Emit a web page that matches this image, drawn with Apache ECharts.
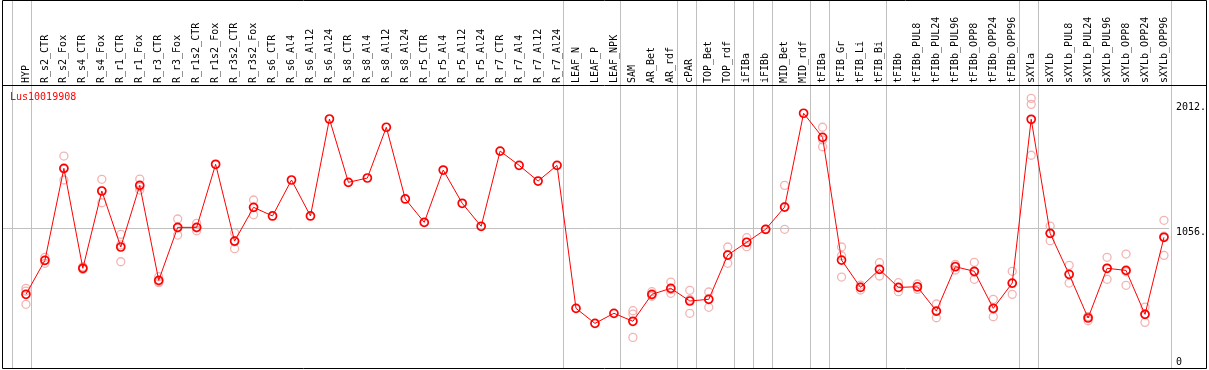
<!DOCTYPE html>
<html>
<head>
<meta charset="utf-8">
<script src="https://cdn.jsdelivr.net/npm/echarts@6/dist/echarts.min.js"></script>
<style>html,body{margin:0;padding:0;background:#fff}#c{width:1209px;height:370px}</style>
</head>
<body>
<div id="c"></div>
<script>
const title = 'Lus10019908';
const categories = ['HYP','R_s2_CTR','R_s2_Fox','R_s4_CTR','R_s4_Fox','R_r1_CTR','R_r1_Fox','R_r3_CTR','R_r3_Fox','R_r1s2_CTR','R_r1s2_Fox','R_r3s2_CTR','R_r3s2_Fox','R_s6_CTR','R_s6_Al4','R_s6_Al12','R_s6_Al24','R_s8_CTR','R_s8_Al4','R_s8_Al12','R_s8_Al24','R_r5_CTR','R_r5_Al4','R_r5_Al12','R_r5_Al24','R_r7_CTR','R_r7_Al4','R_r7_Al12','R_r7_Al24','LEAF_N','LEAF_P','LEAF_NPK','SAM','AR_Bet','AR_rdf','cPAR','TOP_Bet','TOP_rdf','iFIBa','iFIBb','MID_Bet','MID_rdf','tFIBa','tFIB_Gr','tFIB_Li','tFIB_Bi','tFIBb','tFIBb_PUL8','tFIBb_PUL24','tFIBb_PUL96','tFIBb_OPP8','tFIBb_OPP24','tFIBb_OPP96','sXYLa','sXYLb','sXYLb_PUL8','sXYLb_PUL24','sXYLb_PUL96','sXYLb_OPP8','sXYLb_OPP24','sXYLb_OPP96'];
const meanValues = [552,812,1515,751,1342,914,1385,659,1064,1064,1546,959,1217,1151,1426,1151,1892,1408,1441,1829,1281,1102,1502,1248,1072,1647,1538,1418,1538,445,330,407,346,552,598,501,514,852,950,1049,1219,1936,1752,814,605,743,605,610,424,763,728,445,638,1890,1018,705,371,751,735,399,988];
const rep1 = [598,835,1609,763,1431,1011,1433,687,1128,1095,null,1023,1273,null,null,null,null,null,null,null,null,null,null,null,null,null,null,null,null,null,null,null,427,572,646,583,570,914,985,1049,1385,null,1829,914,623,794,641,631,478,781,797,514,728,2050,1074,774,381,835,860,455,1118];
const rep2 = [476,789,1426,743,1252,801,1349,641,1005,1038,null,901,1160,null,null,null,null,null,null,null,null,null,null,null,null,null,null,null,null,null,null,null,223,547,560,407,453,789,916,1049,1049,null,1680,684,585,692,572,590,373,738,667,381,552,1615,962,638,350,667,621,338,850];
const rep3 = [577,812,1510,750,1343,930,1373,649,1059,1059,null,953,1218,null,null,null,null,null,null,null,null,null,null,null,null,null,null,null,null,null,null,null,401,537,588,513,519,853,949,1049,1223,null,1732,847,608,743,603,609,422,770,720,440,634,2004,1018,703,382,751,724,404,996];
const groupEnds = [-1,0,28,31,34,35,37,38,39,41,42,45,52,53,60];
const yTickValues = [0,1056,2012];
const yTickLabels = ['0','1056.','2012.'];
const yGridValues = [1056];

const FONT = 'DejaVu Sans Mono';
const sepOffset = 5/19;
const xMin = -24/19, xMax = 1181/19;   // category index range spanning the frame
const xIdx = categories.map((c,i)=>i);
const pairs = arr => arr.map((v,i)=> v==null ? null : [i,v]).filter(Boolean);
const repData = pairs(rep1).concat(pairs(rep2), pairs(rep3));
const lastSep = groupEnds[groupEnds.length-1] + sepOffset;

const chart = echarts.init(document.getElementById('c'), null, {renderer:'canvas'});
chart.setOption({
  animation:false,
  backgroundColor:'#fff',
  title:{text:title,left:10,top:92,padding:0,textStyle:{color:'#ff0000',fontFamily:FONT,fontSize:10,fontWeight:'normal'}},
  grid:[
    {left:2,top:85,width:1205,height:283},
    {left:2,top:0,width:1205,height:368}
  ],
  xAxis:[
    {type:'value',gridIndex:0,min:xMin,max:xMax,position:'top',
     axisLine:{show:false},axisTick:{show:false},splitLine:{show:false},
     axisLabel:{customValues:xIdx,rotate:90,margin:2,fontFamily:FONT,fontSize:10,color:'#000',
       formatter:v=>categories[Math.round(v)]||''}},
    {type:'value',gridIndex:1,min:xMin,max:xMax,show:false,splitLine:{show:false}}
  ],
  yAxis:[
    {type:'value',gridIndex:0,min:-11,max:2152,position:'right',offset:-37,
     axisLine:{show:false},axisTick:{show:false},splitLine:{show:false},
     axisLabel:{customValues:yTickValues,margin:8,fontFamily:FONT,fontSize:10,color:'#000',
       formatter:v=>{const i=yTickValues.indexOf(v);const t=i>=0?yTickLabels[i]:'';return v===0?'{b|'+t+'}':'{t|'+t+'}';},
       rich:{t:{padding:[9,0,0,0],fontFamily:FONT,fontSize:10,color:'#000'},b:{padding:[0,0,9,0],fontFamily:FONT,fontSize:10,color:'#000'}}}},
    {type:'value',gridIndex:1,min:0,max:1,show:false,splitLine:{show:false}}
  ],
  graphic:[
    {type:'rect',shape:{x:2.5,y:0.5,width:1204,height:368},style:{fill:null,stroke:'#000',lineWidth:1},z:100},
    {type:'line',shape:{x1:2,y1:85.5,x2:1207,y2:85.5},style:{stroke:'#000',lineWidth:1},z:100}
  ],
  series:[
    {type:'line',xAxisIndex:1,yAxisIndex:1,data:[],silent:true,
     markLine:{silent:true,symbol:['none','none'],label:{show:false},animation:false,
       lineStyle:{color:'#c0c0c0',type:'solid',width:1},
       data:groupEnds.map(k=>({xAxis:k+sepOffset}))}},
    {type:'line',xAxisIndex:0,yAxisIndex:0,data:[],silent:true,
     markLine:{silent:true,symbol:['none','none'],label:{show:false},animation:false,
       lineStyle:{color:'#c0c0c0',type:'solid',width:1},
       data:yGridValues.map(v=>[{coord:[xMin,v]},{coord:[lastSep,v]}])}},
    {type:'scatter',xAxisIndex:0,yAxisIndex:0,data:repData,symbol:'circle',symbolSize:8,z:3,
     itemStyle:{color:'rgba(0,0,0,0)',borderColor:'#f0a0a0',borderWidth:1.3}},
    {type:'line',xAxisIndex:0,yAxisIndex:0,data:pairs(meanValues),symbol:'circle',symbolSize:8,showAllSymbol:true,z:5,
     lineStyle:{color:'#ff0000',width:1},
     itemStyle:{color:'rgba(255,255,255,0)',borderColor:'#ff0000',borderWidth:1.7}}
  ]
});
</script>
</body>
</html>
